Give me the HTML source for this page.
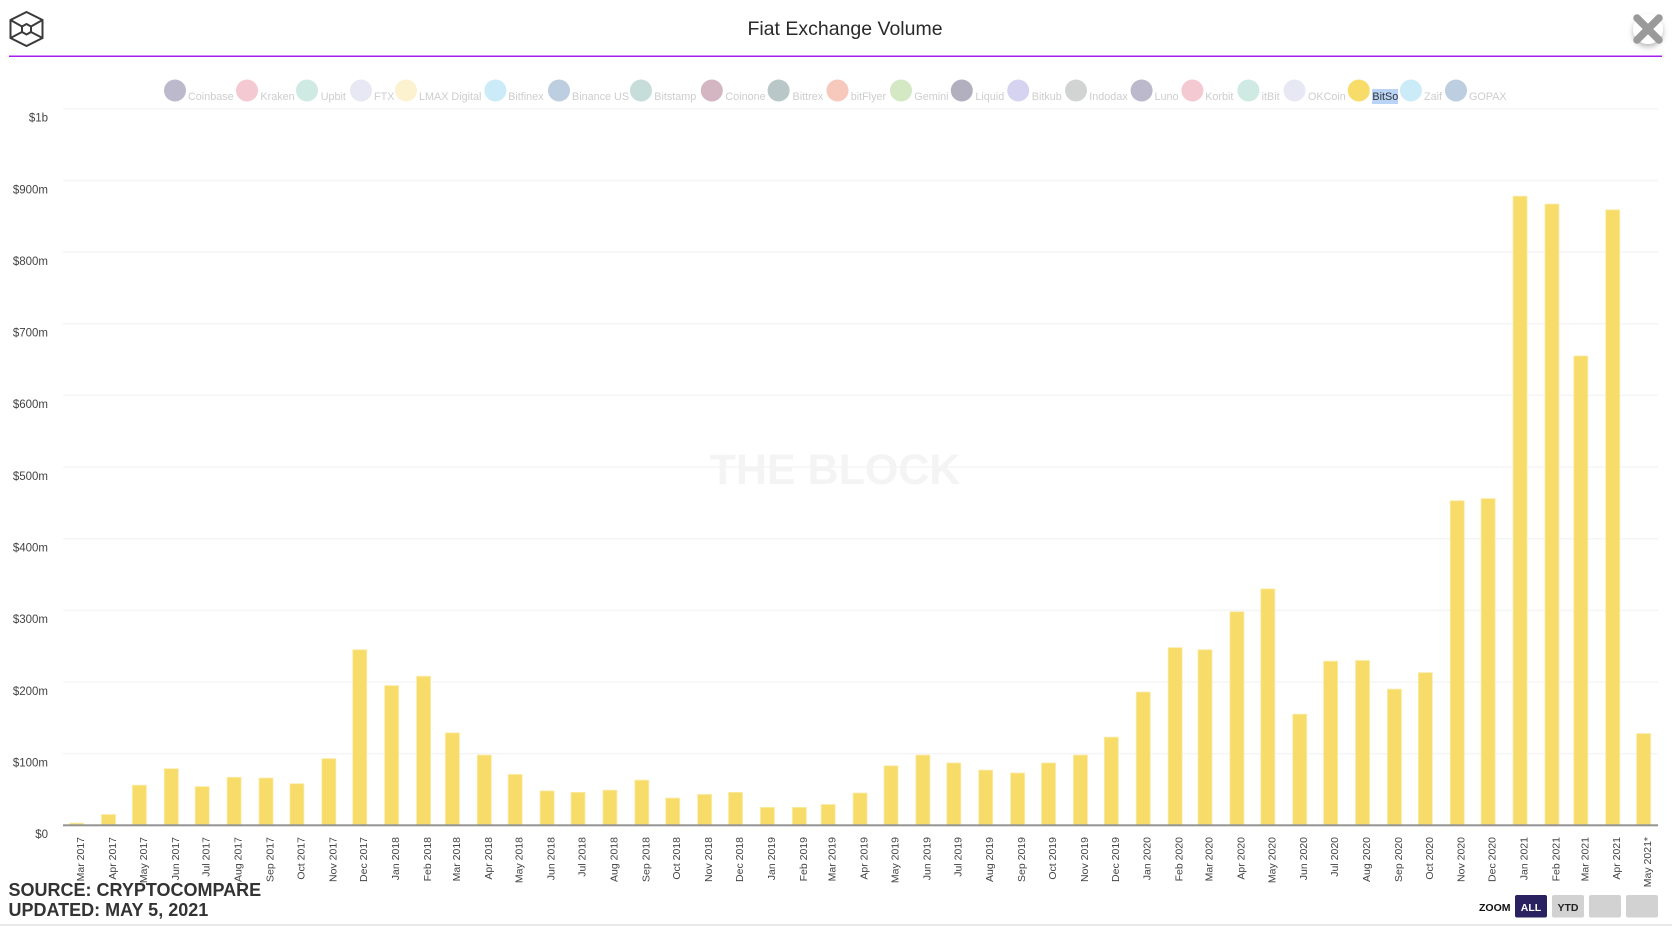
<!DOCTYPE html>
<html lang="en">
<head>
<meta charset="utf-8">
<title>Fiat Exchange Volume</title>
<style>
html,body{margin:0;padding:0;background:#fff;width:1672px;height:940px;overflow:hidden}
svg{display:block;font-family:"Liberation Sans",sans-serif}
.lg{font-size:10.8px;fill:#cdcdcd}
</style>
</head>
<body>
<svg id="chart" width="1672" height="940" viewBox="0 0 1672 940" xmlns="http://www.w3.org/2000/svg">
<defs>
<filter id="closeShadow" x="-50%" y="-50%" width="200%" height="200%"><feDropShadow dx="0" dy="3" stdDeviation="3" flood-color="#000" flood-opacity="0.28"/></filter>
</defs>
<g fill="none" stroke="#3a3a3a" stroke-width="2">
<polygon points="26.5,12 42.5,20 42.5,38 26.5,46 10.5,38 10.5,20"/>
<polygon points="26.5,24 31,26.5 31,32 26.5,34.5 22,32 22,26.5"/>
<path d="M10.5,20 L22,26.5 M42.5,20 L31,26.5 M10.5,38 L22,32 M42.5,38 L31,32"/>
</g>
<text x="845" y="35" text-anchor="middle" font-size="19.5" fill="#2a2a2a">Fiat Exchange Volume</text>
<rect x="9" y="55.5" width="1653" height="1.5" fill="#a61ff0"/>
<g>
<circle cx="1648" cy="29" r="15" fill="#fff" filter="url(#closeShadow)"/>
<path d="M1637,18 L1659,40 M1659,18 L1637,40" stroke="#9a9a9a" stroke-width="7.5" stroke-linecap="round"/>
</g>

<g id="grid"></g>
<text x="835" y="484" text-anchor="middle" font-size="43" font-weight="bold" fill="#f4f4f4">THE BLOCK</text>
<g id="bars"></g>
<rect x="63" y="824.3" width="1595" height="2" fill="#949494"/>
<g id="yLabels"></g>
<g id="xLabels"></g>

<g>
<g><circle cx="175" cy="90.5" r="11" fill="#bdb9cc"/><text class="lg" x="188" y="100">Coinbase</text></g>
<g><circle cx="247" cy="90.5" r="11" fill="#f5c9d2"/><text class="lg" x="260.4" y="100">Kraken</text></g>
<g><circle cx="307" cy="90.5" r="11" fill="#cfe9e3"/><text class="lg" x="320.7" y="100">Upbit</text></g>
<g><circle cx="361" cy="90.5" r="11" fill="#e8e8f4"/><text class="lg" x="374" y="100">FTX</text></g>
<g><circle cx="406" cy="90.5" r="11" fill="#fdf2cf"/><text class="lg" x="419" y="100">LMAX Digital</text></g>
<g><circle cx="495.4" cy="90.5" r="11" fill="#ccebf8"/><text class="lg" x="508.2" y="100">Bitfinex</text></g>
<g><circle cx="559" cy="90.5" r="11" fill="#bccee0"/><text class="lg" x="572" y="100">Binance US</text></g>
<g><circle cx="641" cy="90.5" r="11" fill="#c6ddd9"/><text class="lg" x="654.3" y="100">Bitstamp</text></g>
<g><circle cx="711.8" cy="90.5" r="11" fill="#d4b6c3"/><text class="lg" x="725.4" y="100">Coinone</text></g>
<g><circle cx="778.6" cy="90.5" r="11" fill="#b9c7c8"/><text class="lg" x="792.5" y="100">Bittrex</text></g>
<g><circle cx="837.5" cy="90.5" r="11" fill="#f6c9bc"/><text class="lg" x="850.7" y="100">bitFlyer</text></g>
<g><circle cx="901" cy="90.5" r="11" fill="#d3e8c3"/><text class="lg" x="914.3" y="100">Gemini</text></g>
<g><circle cx="961.8" cy="90.5" r="11" fill="#b2b0bf"/><text class="lg" x="975.4" y="100">Liquid</text></g>
<g><circle cx="1018.2" cy="90.5" r="11" fill="#d5d3ef"/><text class="lg" x="1031.8" y="100">Bitkub</text></g>
<g><circle cx="1076" cy="90.5" r="11" fill="#d2d4d3"/><text class="lg" x="1089.3" y="100">Indodax</text></g>
<g><circle cx="1141.6" cy="90.5" r="11" fill="#bdb9cc"/><text class="lg" x="1154.5" y="100">Luno</text></g>
<g><circle cx="1192.4" cy="90.5" r="11" fill="#f5c9d2"/><text class="lg" x="1205.2" y="100">Korbit</text></g>
<g><circle cx="1248.4" cy="90.5" r="11" fill="#cfe9e3"/><text class="lg" x="1261.6" y="100">itBit</text></g>
<g><circle cx="1294.5" cy="90.5" r="11" fill="#e8e8f4"/><text class="lg" x="1308" y="100">OKCoin</text></g>
<g><circle cx="1358.8" cy="90.5" r="11" fill="#f7dc6a"/><rect x="1372" y="89" width="26" height="15" fill="#b9d4f7"/><text x="1372.4" y="100" font-size="10.8" fill="#333">BitSo</text></g>
<g><circle cx="1410.9" cy="90.5" r="11" fill="#ccebf8"/><text class="lg" x="1424" y="100">Zaif</text></g>
<g><circle cx="1456" cy="90.5" r="11" fill="#bccee0"/><text class="lg" x="1469" y="100">GOPAX</text></g>
</g>

<g font-size="18" font-weight="bold" fill="#333">
<text x="8.5" y="896">SOURCE: CRYPTOCOMPARE</text>
<text x="8.5" y="916">UPDATED: MAY 5, 2021</text>
</g>

<g>
<text x="1479" y="911" font-size="10.5" font-weight="bold" fill="#111">ZOOM</text>
<g><rect x="1515" y="895" width="32" height="22.5" rx="2" fill="#2a2160"/><text x="1531" y="911" text-anchor="middle" font-size="10.5" font-weight="bold" fill="#fff">ALL</text></g>
<g><rect x="1552" y="895" width="32" height="22.5" rx="2" fill="#d2d2d2"/><text x="1568" y="911" text-anchor="middle" font-size="10.5" font-weight="bold" fill="#222">YTD</text></g>
<rect x="1589" y="895" width="32" height="22.5" rx="2" fill="#d2d2d2"/>
<rect x="1626" y="895" width="32" height="22.5" rx="2" fill="#d2d2d2"/>
</g>
<rect x="0" y="924" width="1672" height="2" fill="#e9e9e9"/>
</svg>

<script>
const categories = ["Mar 2017","Apr 2017","May 2017","Jun 2017","Jul 2017","Aug 2017","Sep 2017","Oct 2017","Nov 2017","Dec 2017","Jan 2018","Feb 2018","Mar 2018","Apr 2018","May 2018","Jun 2018","Jul 2018","Aug 2018","Sep 2018","Oct 2018","Nov 2018","Dec 2018","Jan 2019","Feb 2019","Mar 2019","Apr 2019","May 2019","Jun 2019","Jul 2019","Aug 2019","Sep 2019","Oct 2019","Nov 2019","Dec 2019","Jan 2020","Feb 2020","Mar 2020","Apr 2020","May 2020","Jun 2020","Jul 2020","Aug 2020","Sep 2020","Oct 2020","Nov 2020","Dec 2020","Jan 2021","Feb 2021","Mar 2021","Apr 2021","May 2021*"];
const bitsoVolume = [3,15,56,79,54,67,66,58,93,245,195,208,129,98,71,48,46,49,63,38,43,46,25,25,29,45,83,98,87,77,73,87,98,123,186,248,245,298,330,155,229,230,190,213,453,456,878,867,655,859,128];
const yTickValues = [0,100,200,300,400,500,600,700,800,900,1000];
const yTickLabels = ["$0","$100m","$200m","$300m","$400m","$500m","$600m","$700m","$800m","$900m","$1b"];

const SVG_NS = "http://www.w3.org/2000/svg";
const MONTHS = ["Jan","Feb","Mar","Apr","May","Jun","Jul","Aug","Sep","Oct","Nov","Dec"];
function labelToTime(label) {
  const parts = label.replace("*", "").split(" ");
  return Date.UTC(Number(parts[1]), MONTHS.indexOf(parts[0]), 1);
}
const domainStart = labelToTime(categories[0]);
const domainEnd = labelToTime(categories[categories.length - 1]);
function xScale(label) {
  return 76.6 + (labelToTime(label) - domainStart) / (domainEnd - domainStart) * 1567;
}
function yScale(value) {
  return 825.3 - value / 1000 * 716.5;
}
function make(tag, attrs, parent) {
  const el = document.createElementNS(SVG_NS, tag);
  for (const k in attrs) el.setAttribute(k, attrs[k]);
  parent.appendChild(el);
  return el;
}
const gridG = document.getElementById("grid");
const yG = document.getElementById("yLabels");
const xG = document.getElementById("xLabels");
const barsG = document.getElementById("bars");

yTickValues.forEach(function (v, i) {
  if (v > 0) {
    const line = make("line", {x1: 63, x2: 1658, y1: yScale(v), y2: yScale(v), stroke: "#f5f5f5", "stroke-width": 1.5}, gridG);
    
    
  }
  const t = make("text", {x: 48, y: yScale(v) + 12.8, "text-anchor": "end", "font-size": 11.5, fill: "#444"}, yG);
  
  
  t.textContent = yTickLabels[i];
});

categories.forEach(function (c, i) {
  const cx = xScale(c);
  const top = yScale(bitsoVolume[i]);
  const bar = make("rect", {x: cx - 7, y: top, width: 14, height: 825.3 - top, fill: "#f7dc6a", stroke: "#fbeba8", "stroke-width": 0.8}, barsG);
  
  
  const lx = cx + 7.5;
  const t = make("text", {x: lx, y: 837, "text-anchor": "end", "font-size": 10.5, fill: "#444", transform: "rotate(-90 " + lx + " 837)"}, xG);
  
  
  t.textContent = c;
});
</script>
</body>
</html>
